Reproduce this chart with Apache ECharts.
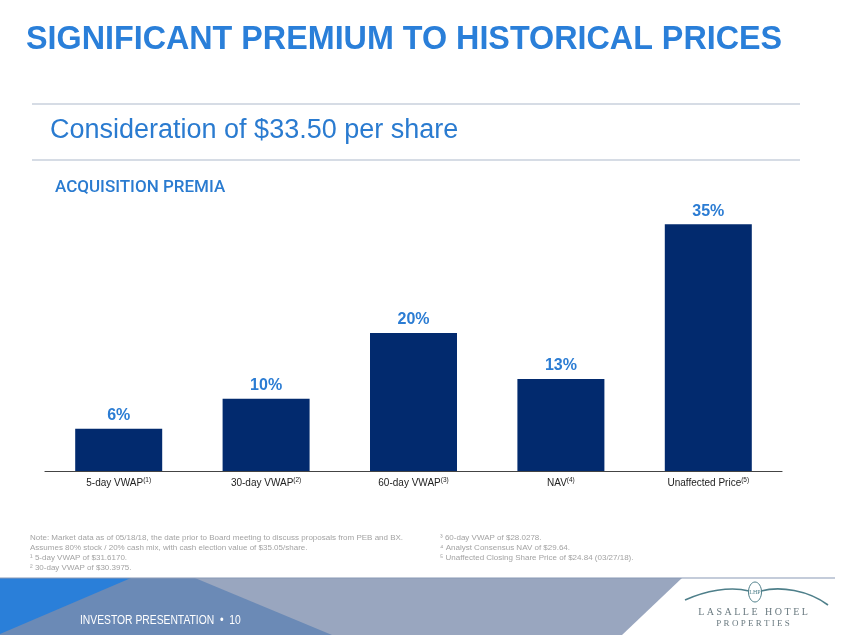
<!DOCTYPE html>
<html><head><meta charset="utf-8">
<script src="https://cdn.jsdelivr.net/npm/echarts@6/dist/echarts.min.js"></script>
<style>html,body{margin:0;padding:0;background:#fff}#c{width:847px;height:635px}</style>
</head><body><div id="c"></div>
<script>
const categories = ['5-day VWAP', '30-day VWAP', '60-day VWAP', 'NAV', 'Unaffected Price'];
const footRefs = ['(1)', '(2)', '(3)', '(4)', '(5)'];
const premia = [5.96, 10.21, 19.52, 13.02, 34.86];
const premiaLabels = ['6%', '10%', '20%', '13%', '35%'];
const notesLeft = [
  'Note: Market data as of 05/18/18, the date prior to Board meeting to discuss proposals from PEB and BX.',
  'Assumes 80% stock / 20% cash mix, with cash election value of $35.05/share.',
  '\u00B9 5-day VWAP of $31.6170.',
  '\u00B2 30-day VWAP of $30.3975.'
];
const notesRight = [
  '\u00B3 60-day VWAP of $28.0278.',
  '\u2074 Analyst Consensus NAV of $29.64.',
  '\u2075 Unaffected Closing Share Price of $24.84 (03/27/18).'
];

const chart = echarts.init(document.getElementById('c'), null, {renderer: 'canvas'});
const blue = '#2b7cd3';
const sans = '"Liberation Sans", Arial, sans-serif';
const g = [];
// title
g.push({type:'text', x:26, y:23, scaleX:0.95, originX:0, style:{text:'SIGNIFICANT PREMIUM TO HISTORICAL PRICES', fill:'#2a7fd9', font:'bold 34px ' + sans}});
g.push({type:'line', shape:{x1:32,y1:104,x2:800,y2:104}, style:{stroke:'#c9d0dd', lineWidth:1.5}});
g.push({type:'text', x:50, y:117, style:{text:'Consideration of $33.50 per share', fill:'#2a7bd0', font:'27px ' + sans}});
g.push({type:'line', shape:{x1:32,y1:160,x2:800,y2:160}, style:{stroke:'#c9d0dd', lineWidth:1.5}});
g.push({type:'text', x:55, y:179, style:{text:'ACQUISITION PREMIA', fill:'#2a7bd0', font:'500 17px Roboto, ' + sans}});
// footnotes
notesLeft.forEach((t,i)=>g.push({type:'text', x:30, y:533.5+i*10, style:{text:t, fill:'#a3a3a3', font:'8px ' + sans}}));
notesRight.forEach((t,i)=>g.push({type:'text', x:440, y:533.5+i*10, style:{text:t, fill:'#a3a3a3', font:'8px ' + sans}}));
// footer band
g.push({type:'polygon', shape:{points:[[0,578],[682,578],[622,635],[0,635]]}, style:{fill:'#99a6bf'}});
g.push({type:'polygon', shape:{points:[[0,578],[195,578],[332,635],[0,635]]}, style:{fill:'#6b8ab6'}});
g.push({type:'polygon', shape:{points:[[0,578],[131,578],[0,634]]}, style:{fill:'#2a7fd9'}});
g.push({type:'line', shape:{x1:0,y1:578,x2:835,y2:578}, style:{stroke:'#8a99b6', lineWidth:1.2}});
g.push({type:'text', x:80, y:615, scaleX:0.86, originX:0, style:{text:'INVESTOR PRESENTATION  \u2022  10', fill:'#ffffff', font:'12px ' + sans}});
// logo
g.push({type:'bezierCurve', shape:{x1:685,y1:600,x2:749,y2:591,cpx1:705,cpy1:591,cpx2:730,cpy2:586}, style:{stroke:'#4e7f8a', lineWidth:1.6, fill:null}});
g.push({type:'bezierCurve', shape:{x1:761,y1:591,x2:828,y2:605,cpx1:780,cpy1:586,cpx2:808,cpy2:590}, style:{stroke:'#4e7f8a', lineWidth:1.6, fill:null}});
g.push({type:'ellipse', shape:{cx:755,cy:592,rx:6.5,ry:10}, style:{stroke:'#4e7f8a', lineWidth:1, fill:'#fff'}});
g.push({type:'text', x:755, y:592, style:{text:'LHP', fill:'#4e7f8a', font:'6px "Liberation Serif", serif', align:'center', verticalAlign:'middle'}});
g.push({type:'text', x:753, y:612, style:{text:'L A S A L L E   H O T E L', fill:'#6a7a80', font:'10px "Liberation Serif", serif', align:'center', verticalAlign:'middle'}});
g.push({type:'text', x:753, y:624, style:{text:'P R O P E R T I E S', fill:'#6a7a80', font:'9px "Liberation Serif", serif', align:'center', verticalAlign:'middle'}});

chart.setOption({
  animation:false,
  backgroundColor:'#fff',
  grid:{left:45, right:65, top:188, bottom:164, containLabel:false},
  xAxis:{type:'category', data:categories,
    axisLine:{lineStyle:{color:'#444', width:1.2}}, axisTick:{show:false},
    axisLabel:{margin:6, color:'#222', fontSize:10, fontFamily:sans,
      formatter:(v,i)=>v+'{s|'+footRefs[i]+'}',
      rich:{s:{fontSize:6.5, color:'#222', verticalAlign:'top', padding:[0,0,5,0]}}}},
  yAxis:{type:'value', min:0, max:40, show:false, splitLine:{show:false}},
  series:[{type:'bar', data:premia, barWidth:87,
    itemStyle:{color:'#022a6e'},
    label:{show:true, position:'top', distance:5, formatter:p=>premiaLabels[p.dataIndex],
      color:blue, fontSize:16, fontWeight:'bold', fontFamily:sans}}],
  graphic:g
});
</script></body></html>
